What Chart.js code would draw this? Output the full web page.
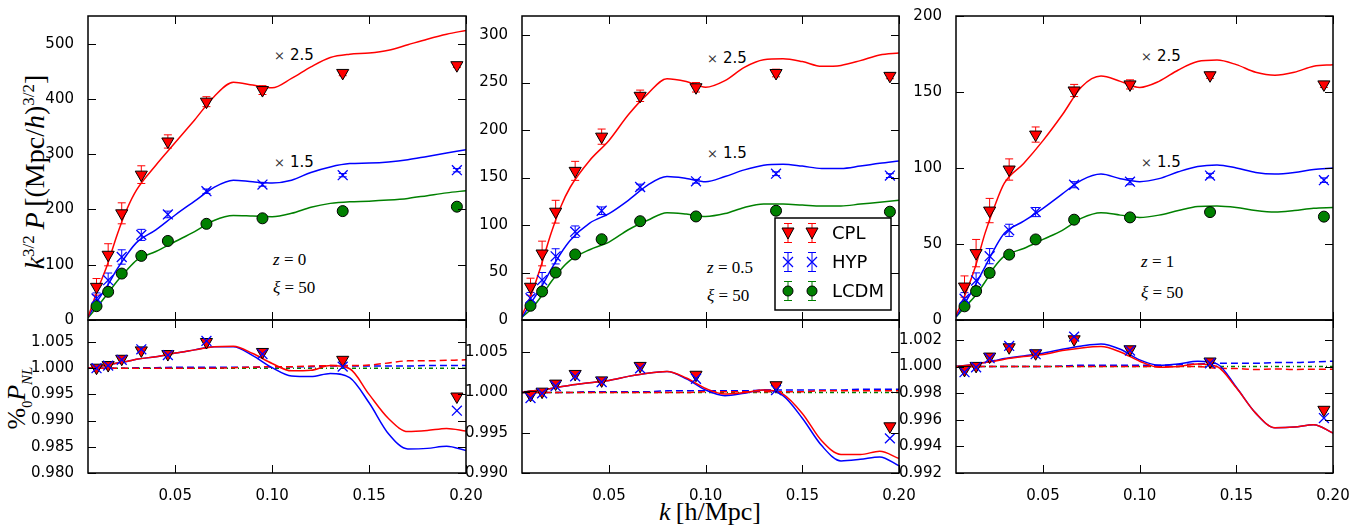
<!DOCTYPE html>
<html>
<head>
<meta charset="utf-8">
<script src="https://cdn.jsdelivr.net/npm/chart.js@4.4.0/dist/chart.umd.min.js"></script>
<style>
  body { margin: 0; width: 1362px; height: 525px; background: #fff; position: relative; overflow: hidden; font-family: "DejaVu Sans", sans-serif; }
  canvas { position: absolute; }
  .note { position: absolute; transform: translateY(-50%); white-space: nowrap; color: #000; }
  .times { font-size: 15px; }
  .times span { font-family: "DejaVu Serif", serif; font-size: 13px; color: #333; margin-right: 5px; }
  .math { font-family: "Liberation Serif", serif; font-size: 17px; }
  .title { position: absolute; font-family: "Liberation Serif", serif; font-size: 26px; white-space: nowrap; }
</style>
</head>
<body>

<div class="title" id="ytop" style="left:35px; top:172px; font-size:28px; transform: translate(-50%,-50%) rotate(-90deg);"><i>k</i><sup style="font-size:17px">3/2</sup>&thinsp;<i>P</i>&thinsp;[(Mpc/<i>h</i>)<sup style="font-size:17px">3/2</sup>]</div>
<div class="title" id="ybot" style="left:19px; top:398px; transform: translate(-50%,-50%) rotate(-90deg);">%<sub style="font-size:14px">0</sub><i>P</i><sub style="font-size:15px"><i>NL</i></sub></div>
<div class="title" id="xbot" style="left:710px; top:512px; transform: translate(-50%,-50%);"><i>k</i>&thinsp;[h/Mpc]</div>

<div class="note times" style="left:274px; top:55px;"><span>×</span>2.5</div>
<div class="note times" style="left:274px; top:162px;"><span>×</span>1.5</div>
<div class="note math" style="left:273px; top:260px;"><i>z</i> = 0</div>
<div class="note math" style="left:273px; top:288px;"><i>ξ</i> = 50</div>

<div class="note times" style="left:707px; top:58px;"><span>×</span>2.5</div>
<div class="note times" style="left:707px; top:153px;"><span>×</span>1.5</div>
<div class="note math" style="left:707px; top:268px;"><i>z</i> = 0.5</div>
<div class="note math" style="left:707px; top:296px;"><i>ξ</i> = 50</div>

<div class="note times" style="left:1141px; top:56px;"><span>×</span>2.5</div>
<div class="note times" style="left:1141px; top:162px;"><span>×</span>1.5</div>
<div class="note math" style="left:1141px; top:262px;"><i>z</i> = 1</div>
<div class="note math" style="left:1141px; top:293px;"><i>ξ</i> = 50</div>

<script>
// ---- k grid ----
const kBins = [0.0094, 0.0154, 0.0224, 0.0325, 0.0462, 0.0661, 0.0950, 0.1364, 0.1953];
const kLine = [0.005, 0.01, 0.015, 0.02, 0.025, 0.03, 0.04, 0.05, 0.06, 0.07, 0.08, 0.09,
               0.10, 0.11, 0.12, 0.13, 0.14, 0.15, 0.16, 0.17, 0.18, 0.19, 0.20];
const xTicks = [0.05, 0.10, 0.15, 0.20];

// ---- z = 0 ----
const cplZ0 = [60, 118, 193, 263, 323, 395, 416, 447, 461];
const cplErrZ0 = [15, 20, 19, 16, 12, 9, 8, 5, 4];
const hypZ0 = [39, 72, 114, 154, 191, 233, 245, 262, 271];
const hypErrZ0 = [10, 13, 13, 10, 6, 4, 3, 3, 3];
const lcdmZ0 = [25, 51, 84, 116, 143, 174, 184, 197, 205];
const lcdmErrZ0 = [4, 5, 5, 4, 3, 2, 2, 2, 2];
const cplLineZ0 = [5, 55, 100, 154, 200, 235, 280, 321, 362, 404, 430, 425, 420, 437, 458, 475, 481, 483, 488, 498, 508, 517, 524];
const hypLineZ0 = [5, 35, 62, 92, 118, 140, 163, 190, 215, 240, 253, 250, 248, 253, 267, 277, 283, 284, 286, 290, 296, 302, 308];
const lcdmLineZ0 = [4, 25, 47, 70, 90, 108, 124, 142, 160, 180, 189, 188, 187, 193, 204, 211, 214, 215, 217, 220, 225, 230, 234];
const yTicksZ0 = [0, 100, 200, 300, 400, 500];

const cplRatioZ0 = [1.0001, 1.0006, 1.0018, 1.0034, 1.0027, 1.0050, 1.0031, 1.0016, 0.9946];
const hypRatioZ0 = [1.0000, 1.0005, 1.0016, 1.0036, 1.0025, 1.0052, 1.0027, 1.0003, 0.9919];
const cplRatioLineZ0 = [1.0000, 1.0003, 1.0006, 1.0010, 1.0013, 1.0017, 1.0022, 1.0029, 1.0035, 1.0041, 1.0042, 1.0028,
                        1.0009, 0.9995, 0.9996, 1.0005, 0.9999, 0.9950, 0.9904, 0.9879, 0.9881, 0.9885, 0.9880];
const hypRatioLineZ0 = [1.0000, 1.0003, 1.0006, 1.0010, 1.0013, 1.0017, 1.0022, 1.0029, 1.0035, 1.0041, 1.0041, 1.0024,
                        1.0001, 0.9985, 0.9984, 0.9990, 0.9982, 0.9934, 0.9875, 0.9846, 0.9847, 0.9851, 0.9843];
const cplDashZ0 = [1.0000, 1.0000, 1.0000, 1.0000, 1.0000, 1.0000, 1.0000, 1.0000, 1.0000, 1.0000, 1.0001, 1.0002,
                   1.0003, 1.0003, 1.0004, 1.0005, 1.0005, 1.0006, 1.0010, 1.0014, 1.0014, 1.0015, 1.0016];
const hypDashZ0 = [1.0000, 1.0000, 1.0000, 1.0000, 1.0000, 1.0001, 1.0001, 1.0002, 1.0002, 1.0002, 1.0002, 1.0002,
                   1.0003, 1.0003, 1.0003, 1.0004, 1.0004, 1.0004, 1.0004, 1.0004, 1.0005, 1.0005, 1.0005];
const lcdmRefZ0 = [1, 1, 1, 1, 1, 1, 1, 1, 1, 1, 1, 1, 1, 1, 1, 1, 1, 1, 1, 1, 1, 1, 1];
const rTicksZ0 = [0.980, 0.985, 0.990, 0.995, 1.000, 1.005];

// ---- z = 0.5 ----
const cplZ05 = [35, 70, 114, 157, 193, 236, 245, 260, 257];
const cplErrZ05 = [9, 13, 12, 10, 8, 6, 5, 4, 3];
const hypZ05 = [23, 42, 67, 93, 115, 140, 146, 154, 152];
const hypErrZ05 = [6, 8, 8, 6, 4, 3, 2, 2, 2];
const lcdmZ05 = [15, 30, 50, 69, 85, 104, 109, 115, 114];
const lcdmErrZ05 = [3, 4, 4, 3, 2, 1.5, 1.5, 1.5, 1.5];
const cplLineZ05 = [5, 28, 58, 91, 119, 140, 168, 189, 216, 238, 254, 251, 245, 252, 266, 274, 275, 272, 267, 268, 273, 279, 281];
const hypLineZ05 = [3, 19, 35, 53, 70, 84, 102, 112, 126, 142, 151, 149, 145.5, 151, 158, 163, 164, 162, 159.5, 159.5, 162, 165, 167.5];
const lcdmLineZ05 = [3, 12, 25, 40, 53, 63, 74, 82, 95, 105, 113, 111.5, 109, 112, 118.5, 122, 122, 121, 120, 120, 122, 124, 126];
const yTicksZ05 = [0, 50, 100, 150, 200, 250, 300];

const cplRatioZ05 = [0.9997, 1.0001, 1.0011, 1.0023, 1.0015, 1.0033, 1.0022, 1.0009, 0.9958];
const hypRatioZ05 = [0.9993, 0.9999, 1.0008, 1.0020, 1.0013, 1.0030, 1.0017, 1.0003, 0.9943];
const cplRatioLineZ05 = [1.0000, 1.0002, 1.0003, 1.0005, 1.0007, 1.0009, 1.0012, 1.0015, 1.0020, 1.0024, 1.0026, 1.0018,
                         1.0005, 0.9998, 1.0000, 1.0003, 0.9998, 0.9974, 0.9940, 0.9923, 0.9923, 0.9927, 0.9918];
const hypRatioLineZ05 = [1.0000, 1.0002, 1.0003, 1.0005, 1.0007, 1.0009, 1.0012, 1.0015, 1.0020, 1.0024, 1.0026, 1.0017,
                         1.0003, 0.9996, 0.9999, 1.0003, 0.9996, 0.9968, 0.9934, 0.9915, 0.9917, 0.9920, 0.9909];
const cplDashZ05 = [1.0000, 1.0000, 1.0000, 1.0000, 1.0000, 1.0000, 1.0000, 1.0000, 1.0000, 1.0000, 1.0000, 1.0000,
                    1.0001, 1.0001, 1.0001, 1.0001, 1.0001, 1.0001, 1.0002, 1.0002, 1.0002, 1.0002, 1.0002];
const hypDashZ05 = [1.0000, 1.0000, 1.0000, 1.0000, 1.0000, 1.0000, 1.0001, 1.0001, 1.0001, 1.0001, 1.0002, 1.0002,
                    1.0002, 1.0002, 1.0002, 1.0003, 1.0003, 1.0003, 1.0003, 1.0003, 1.0004, 1.0004, 1.0004];
const lcdmRefZ05 = [1, 1, 1, 1, 1, 1, 1, 1, 1, 1, 1, 1, 1, 1, 1, 1, 1, 1, 1, 1, 1, 1, 1];
const rTicksZ05 = [0.990, 0.995, 1.000, 1.005];

// ---- z = 1 ----
const cplZ1 = [22, 44, 72, 99, 122, 151, 155, 161, 155];
const cplErrZ1 = [7, 9, 8, 7, 5, 4, 3, 2, 2];
const hypZ1 = [14, 26, 42, 59, 71, 89, 91, 95, 92];
const hypErrZ1 = [4, 5, 5, 4, 3, 2, 2, 1.5, 1.5];
const lcdmZ1 = [9, 19, 31, 43, 53, 66, 67.5, 71, 68];
const lcdmErrZ1 = [2, 3, 3, 2, 1.5, 1, 1, 1, 1];
const cplLineZ1 = [3, 17.5, 35, 57, 75, 90, 103, 118, 135, 153.5, 160.5, 157, 153, 157, 164.5, 170, 171, 168, 163, 161, 163, 167, 168];
const hypLineZ1 = [2, 12, 23, 35, 47, 57, 65, 73.5, 83, 92, 96, 93, 91, 93, 97.5, 101, 102, 100, 97, 96, 97, 99, 100];
const lcdmLineZ1 = [2, 9, 16, 25, 35, 42, 47, 53, 59, 67, 70.6, 69, 67.5, 69, 72, 74.6, 75, 74, 72, 71, 72, 73.5, 74];
const yTicksZ1 = [0, 50, 100, 150, 200];

const cplRatioZ1 = [0.99975, 1.00005, 1.00075, 1.00145, 1.0010, 1.00205, 1.0013, 1.00038, 0.99675];
const hypRatioZ1 = [0.99958, 0.99995, 1.00063, 1.00155, 1.00093, 1.00225, 1.0012, 1.00025, 0.99613];
const cplRatioLineZ1 = [1.0000, 1.00008, 1.00018, 1.0003, 1.0004, 1.00055, 1.00075, 1.0009, 1.0012, 1.0014, 1.0015, 1.0011,
                        1.0004, 0.99995, 1.0000, 1.0002, 1.0000, 0.9984, 0.9965, 0.9954, 0.99545, 0.99563, 0.9950];
const hypRatioLineZ1 = [1.0000, 1.00008, 1.0002, 1.0003, 1.00045, 1.0006, 1.0008, 1.0010, 1.0013, 1.00155, 1.0017, 1.0013,
                        1.0005, 1.0001, 1.0002, 1.0004, 1.0002, 0.99845, 0.9965, 0.9954, 0.99545, 0.99563, 0.9950];
const cplDashZ1 = [1.0000, 1.0000, 1.0000, 1.0000, 1.0000, 1.0000, 1.0000, 1.0000, 1.0000, 1.0000, 1.0000, 1.0000,
                   1.0000, 1.0000, 1.0000, 1.0000, 0.99988, 0.99985, 0.99978, 0.99982, 0.99978, 0.9998, 0.9998];
const hypDashZ1 = [1.0000, 1.0000, 1.0000, 1.0000, 1.0000, 1.0000, 1.0000, 1.0000, 1.00005, 1.0001, 1.0001, 1.0001,
                   1.0001, 1.0001, 1.00015, 1.0002, 1.00025, 1.00025, 1.00025, 1.0003, 1.0003, 1.00035, 1.0004];
const lcdmRefZ1 = [1, 1, 1, 1, 1, 1, 1, 1, 1, 1, 1, 1, 1, 1, 1, 1, 1, 1, 1, 1, 1, 1, 1];
const rTicksZ1 = [0.992, 0.994, 0.996, 0.998, 1.000, 1.002];

const legendNames = ["CPL", "HYP", "LCDM"];

const RED = "#ff0000", BLUE = "#0000ff", GREEN = "#008000";
const TICK_FONT = { family: "DejaVu Sans", size: 15 };

const pts = (xs, ys) => xs.map((x, i) => ({ x: x, y: ys[i] }));

// frame, inward ticks on all sides, and error bars
const mplAxes = {
  id: "mplAxes",
  beforeDatasetsDraw(chart) {
    const ctx = chart.ctx, xs = chart.scales.x, ys = chart.scales.y;
    ctx.save();
    ctx.lineWidth = 1;
    chart.data.datasets.forEach((ds) => {
      if (!ds.errs) return;
      ctx.strokeStyle = ds.errColor;
      ds.data.forEach((p, i) => {
        const px = xs.getPixelForValue(p.x);
        const top = ys.getPixelForValue(p.y + ds.errs[i]);
        const bot = ys.getPixelForValue(p.y - ds.errs[i]);
        ctx.beginPath();
        ctx.moveTo(px, top); ctx.lineTo(px, bot);
        ctx.moveTo(px - 4, top); ctx.lineTo(px + 4, top);
        ctx.moveTo(px - 4, bot); ctx.lineTo(px + 4, bot);
        ctx.stroke();
      });
    });
    ctx.restore();
  },
  afterDraw(chart) {
    const ctx = chart.ctx, a = chart.chartArea;
    const xs = chart.scales.x, ys = chart.scales.y;
    const yt = chart.options.plugins.mplAxes.yTicks;
    ctx.save();
    ctx.strokeStyle = "#000";
    ctx.lineWidth = 1;
    ctx.beginPath();
    xTicks.forEach((v) => {
      const px = Math.round(xs.getPixelForValue(v)) + 0.5;
      ctx.moveTo(px, a.bottom); ctx.lineTo(px, a.bottom - 8);
      ctx.moveTo(px, a.top); ctx.lineTo(px, a.top + 8);
    });
    yt.forEach((v) => {
      const py = Math.round(ys.getPixelForValue(v)) + 0.5;
      ctx.moveTo(a.left, py); ctx.lineTo(a.left + 8, py);
      ctx.moveTo(a.right, py); ctx.lineTo(a.right - 8, py);
    });
    ctx.stroke();
    ctx.lineWidth = 1.5;
    ctx.strokeRect(a.left, a.top, a.right - a.left, a.bottom - a.top);
    ctx.restore();
  }
};

// matplotlib-like legend with two markers per entry
function drawMarker(ctx, kind, x, y) {
  ctx.beginPath();
  if (kind === "tri") {
    ctx.moveTo(x - 6, y - 5); ctx.lineTo(x + 6, y - 5); ctx.lineTo(x, y + 6); ctx.closePath();
    ctx.fillStyle = RED; ctx.fill(); ctx.strokeStyle = "#000"; ctx.lineWidth = 1; ctx.stroke();
  } else if (kind === "x") {
    ctx.moveTo(x - 5, y - 5); ctx.lineTo(x + 5, y + 5);
    ctx.moveTo(x - 5, y + 5); ctx.lineTo(x + 5, y - 5);
    ctx.strokeStyle = BLUE; ctx.lineWidth = 1.3; ctx.stroke();
  } else {
    ctx.arc(x, y, 5, 0, Math.PI * 2);
    ctx.fillStyle = GREEN; ctx.fill(); ctx.strokeStyle = "#000"; ctx.lineWidth = 1; ctx.stroke();
  }
}
const mplLegend = {
  id: "mplLegend",
  afterDraw(chart) {
    const ctx = chart.ctx, a = chart.chartArea;
    const bx = a.right - 124, by = a.bottom - 102, bw = 116, bh = 92;
    ctx.save();
    ctx.fillStyle = "#fff";
    ctx.fillRect(bx, by, bw, bh);
    ctx.strokeStyle = "#000"; ctx.lineWidth = 1.5;
    ctx.strokeRect(bx, by, bw, bh);
    const kinds = ["tri", "x", "circ"], cols = [RED, BLUE, GREEN];
    legendNames.forEach((name, i) => {
      const y = by + 15 + i * 29;
      [bx + 13, bx + 37].forEach((x) => {
        ctx.strokeStyle = cols[i]; ctx.lineWidth = 1;
        ctx.beginPath();
        ctx.moveTo(x, y - 9.5); ctx.lineTo(x, y + 9.5);
        ctx.moveTo(x - 4, y - 9.5); ctx.lineTo(x + 4, y - 9.5);
        ctx.moveTo(x - 4, y + 9.5); ctx.lineTo(x + 4, y + 9.5);
        ctx.stroke();
        drawMarker(ctx, kinds[i], x, y);
      });
      ctx.fillStyle = "#000";
      ctx.font = "18px 'DejaVu Sans'";
      ctx.textBaseline = "middle";
      ctx.fillText(name, bx + 57, y + 1);
    });
    ctx.restore();
  }
};

function lineSet(ys, color, order, dash) {
  return {
    data: pts(kLine, ys), showLine: true, pointRadius: 0, borderColor: color,
    borderWidth: 1.5, borderDash: dash || [], cubicInterpolationMode: "monotone", order: order
  };
}
function pointSet(ys, kind, order, errs, errColor) {
  const base = { data: pts(kBins, ys), showLine: false, order: order, errs: errs, errColor: errColor };
  if (kind === "tri") return Object.assign(base, { pointStyle: "triangle", rotation: 180, pointRadius: 7, backgroundColor: RED, borderColor: "#000", borderWidth: 1 });
  if (kind === "x") return Object.assign(base, { pointStyle: "crossRot", pointRadius: 7, borderColor: BLUE, backgroundColor: BLUE, borderWidth: 1.3 });
  return Object.assign(base, { pointStyle: "circle", pointRadius: 5.5, backgroundColor: GREEN, borderColor: "#000", borderWidth: 1 });
}

const PAD_R = 26;
function makeChart(spec) {
  const c = document.createElement("canvas");
  const w = spec.right - spec.left + 80 + PAD_R;
  c.width = w; c.height = spec.h;
  c.style.left = (spec.left - 80) + "px";
  c.style.top = spec.top + "px";
  document.body.appendChild(c);
  const plugins = [mplAxes];
  if (spec.legend) plugins.push(mplLegend);
  return new Chart(c, {
    type: "scatter",
    data: { datasets: spec.datasets },
    plugins: plugins,
    options: {
      responsive: false, animation: false, events: [],
      layout: { padding: { left: 0, right: PAD_R, top: spec.padTop, bottom: spec.padBottom } },
      plugins: { legend: { display: false }, tooltip: { enabled: false }, mplAxes: { yTicks: spec.yTicks } },
      scales: {
        x: {
          type: "linear", min: 0.005, max: 0.2, display: spec.showX,
          grid: { display: false }, border: { display: false },
          afterBuildTicks: (s) => { s.ticks = xTicks.map((v) => ({ value: v })); },
          afterFit: (s) => { s.height = spec.showX ? 30 : 0; s.paddingLeft = 0; s.paddingRight = 0; },
          ticks: { font: TICK_FONT, color: "#000", padding: 6, maxRotation: 0, autoSkip: false, callback: (v) => v.toFixed(2) }
        },
        y: {
          type: "linear", min: spec.yMin, max: spec.yMax,
          grid: { display: false }, border: { display: false },
          afterBuildTicks: (s) => { s.ticks = spec.yTicks.map((v) => ({ value: v })); },
          afterFit: (s) => { s.width = 80; s.paddingTop = 0; s.paddingBottom = 0; },
          ticks: { font: TICK_FONT, color: "#000", padding: 6, autoSkip: false, callback: (v) => v.toFixed(spec.dec) }
        }
      }
    }
  });
}

const panels = [
  { left: 88, right: 466, yMax: 550, yTicks: yTicksZ0, rMin: 0.980, rMax: 1.0092, rTicks: rTicksZ0,
    cpl: cplZ0, cplErr: cplErrZ0, hyp: hypZ0, hypErr: hypErrZ0, lcdm: lcdmZ0, lcdmErr: lcdmErrZ0,
    cplLine: cplLineZ0, hypLine: hypLineZ0, lcdmLine: lcdmLineZ0,
    cplR: cplRatioZ0, hypR: hypRatioZ0, cplRL: cplRatioLineZ0, hypRL: hypRatioLineZ0,
    cplD: cplDashZ0, hypD: hypDashZ0, ref: lcdmRefZ0 },
  { left: 522, right: 899, yMax: 320, yTicks: yTicksZ05, rMin: 0.990, rMax: 1.009, rTicks: rTicksZ05, legend: true,
    cpl: cplZ05, cplErr: cplErrZ05, hyp: hypZ05, hypErr: hypErrZ05, lcdm: lcdmZ05, lcdmErr: lcdmErrZ05,
    cplLine: cplLineZ05, hypLine: hypLineZ05, lcdmLine: lcdmLineZ05,
    cplR: cplRatioZ05, hypR: hypRatioZ05, cplRL: cplRatioLineZ05, hypRL: hypRatioLineZ05,
    cplD: cplDashZ05, hypD: hypDashZ05, ref: lcdmRefZ05 },
  { left: 956, right: 1333, yMax: 200, yTicks: yTicksZ1, rMin: 0.992, rMax: 1.0035, rTicks: rTicksZ1,
    cpl: cplZ1, cplErr: cplErrZ1, hyp: hypZ1, hypErr: hypErrZ1, lcdm: lcdmZ1, lcdmErr: lcdmErrZ1,
    cplLine: cplLineZ1, hypLine: hypLineZ1, lcdmLine: lcdmLineZ1,
    cplR: cplRatioZ1, hypR: hypRatioZ1, cplRL: cplRatioLineZ1, hypRL: hypRatioLineZ1,
    cplD: cplDashZ1, hypD: hypDashZ1, ref: lcdmRefZ1 }
];

panels.forEach((p) => {
  // top: power spectra
  makeChart({
    left: p.left, right: p.right, top: 0, h: 336, padTop: 16, padBottom: 16,
    showX: false, yMin: 0, yMax: p.yMax, yTicks: p.yTicks, dec: 0, legend: p.legend,
    datasets: [
      pointSet(p.cpl, "tri", 0, p.cplErr, RED),
      pointSet(p.hyp, "x", 1, p.hypErr, BLUE),
      pointSet(p.lcdm, "circ", 2, p.lcdmErr, GREEN),
      lineSet(p.cplLine, RED, 3),
      lineSet(p.hypLine, BLUE, 4),
      lineSet(p.lcdmLine, GREEN, 5)
    ]
  });
  // bottom: ratios
  makeChart({
    left: p.left, right: p.right, top: 300, h: 225, padTop: 20, padBottom: 22,
    showX: true, yMin: p.rMin, yMax: p.rMax, yTicks: p.rTicks, dec: 3,
    datasets: [
      pointSet(p.hypR, "x", 0),
      pointSet(p.cplR, "tri", 1),
      lineSet(p.cplRL, RED, 2),
      lineSet(p.hypRL, BLUE, 3),
      lineSet(p.cplD, RED, 4, [7, 4]),
      lineSet(p.hypD, BLUE, 5, [7, 4]),
      lineSet(p.ref, GREEN, 6, [4, 3, 1, 3])
    ]
  });
});
</script>
</body>
</html>
